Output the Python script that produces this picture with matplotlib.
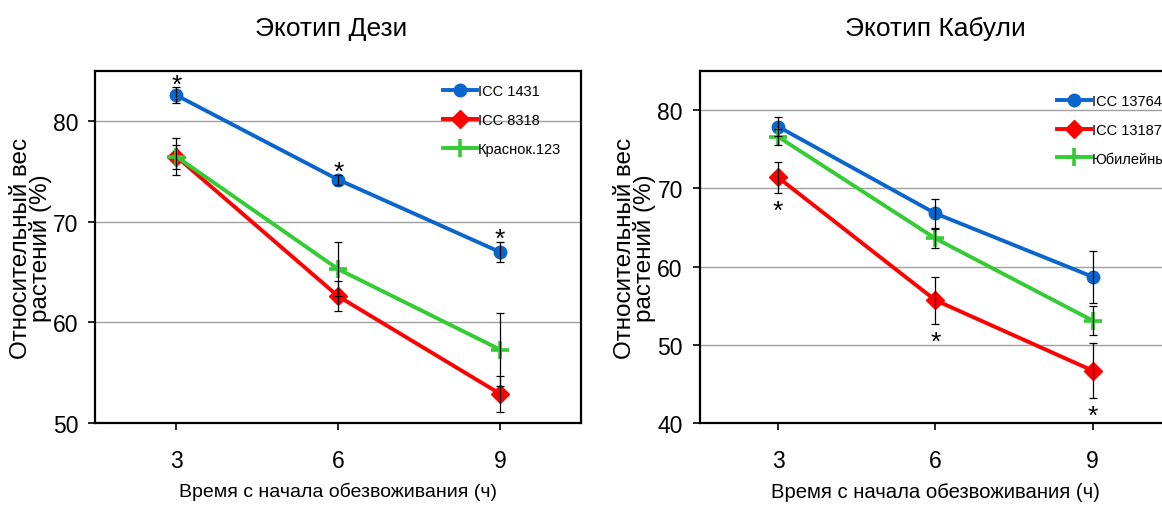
import matplotlib
matplotlib.use("Agg")
import matplotlib.pyplot as plt

# Hours since the start of dehydration
hours = [3, 6, 9]

# Desi ecotype: relative plant weight (%) and standard errors
desi_names = ["ICC 1431", "ICC 8318", "Краснок.123"]
desi_mean = [[82.6, 74.2, 67.0],
             [76.5, 62.6, 52.9],
             [76.5, 65.3, 57.3]]
desi_err = [[0.8, 0.5, 1.0],
            [1.2, 1.5, 1.8],
            [1.8, 2.7, 3.6]]

# Kabuli ecotype
kabuli_names = ["ICC 13764", "ICC 13187", "Юбилейный"]
kabuli_mean = [[77.9, 66.8, 58.7],
               [71.4, 55.7, 46.7],
               [76.6, 63.6, 53.1]]
kabuli_err = [[1.2, 1.9, 3.3],
              [2.0, 3.0, 3.5],
              [1.0, 1.2, 1.9]]

colors = ["#0a66cc", "#ff0000", "#33cc33"]
markers = ["o", "D", "+"]
msizes = [9, 9, 12.5]

font = ["Liberation Sans Narrow", "Liberation Sans", "DejaVu Sans"]

fig = plt.figure(figsize=(11.62, 5.10), dpi=100)
ax1 = fig.add_axes([0.0821, 0.1686, 0.418, 0.690])
ax2 = fig.add_axes([0.602, 0.1686, 0.406, 0.690])


def draw_panel(ax, title, names, means, errs, ylim, yticks, star_series, star_side,
               leg_x, leg_y, xlabel_size, title_x):
    for i, (nm, m, e) in enumerate(zip(names, means, errs)):
        ax.plot(hours, m, color=colors[i], lw=2.8, marker=markers[i],
                markersize=msizes[i], markeredgewidth=2.6 if markers[i] == "+" else 1,
                markeredgecolor=colors[i], label=nm, zorder=3)
        ax.errorbar(hours, m, yerr=e, fmt="none", ecolor="black", elinewidth=0.9,
                    capsize=3.2, capthick=0.9, zorder=4)
    # significance marks
    m = means[star_series]
    e = errs[star_series]
    for x, y, er in zip(hours, m, e):
        if star_side > 0:
            ax.annotate("*", (x, y + er), xytext=(0, 2), textcoords="offset points",
                        ha="center", va="center", fontsize=19, family=font)
        else:
            ax.annotate("*", (x, y - er), xytext=(0, -13), textcoords="offset points",
                        ha="center", va="center", fontsize=19, family=font)
    ax.set_xlim(1.5, 10.5)
    ax.set_ylim(*ylim)
    ax.set_xticks(hours)
    ax.set_yticks(yticks)
    ax.yaxis.grid(True, color="#a0a0a0", lw=1.0)
    ax.set_axisbelow(True)
    for s in ax.spines.values():
        s.set_color("black")
        s.set_linewidth(1.6)
    ax.tick_params(axis="both", direction="out", length=5, width=1.2, colors="black")
    ax.tick_params(axis="x", pad=14)
    ax.tick_params(axis="y", pad=7)
    for lab in ax.get_xticklabels() + ax.get_yticklabels():
        lab.set_family(font)
        lab.set_fontsize(16.5)
    ax.set_xlabel("Время с начала обезвоживания (ч)", family=font, fontsize=xlabel_size,
                  labelpad=7)
    ax.set_ylabel("Относительный вес\nрастений (%)", family=font, fontsize=17.5,
                  labelpad=1, linespacing=0.85)
    ax.set_title(title, family=font, fontsize=19, pad=26, x=title_x)
    ax.legend(loc="upper left", bbox_to_anchor=(leg_x, leg_y), frameon=False,
              prop={"family": font, "size": 10.5}, handlelength=2.3,
              handletextpad=0.08, labelspacing=1.0, borderaxespad=0.0, borderpad=0.0)


draw_panel(ax1, "Экотип Дези", desi_names, desi_mean, desi_err,
           (50, 85), [50, 60, 70, 80], 0, +1, 0.716, 0.962, 14.0, 0.485)
draw_panel(ax2, "Экотип Кабули", kabuli_names, kabuli_mean, kabuli_err,
           (40, 85), [40, 50, 60, 70, 80], 1, -1, 0.758, 0.934, 14.6, 0.5)

fig.savefig("out.png", dpi=100)
